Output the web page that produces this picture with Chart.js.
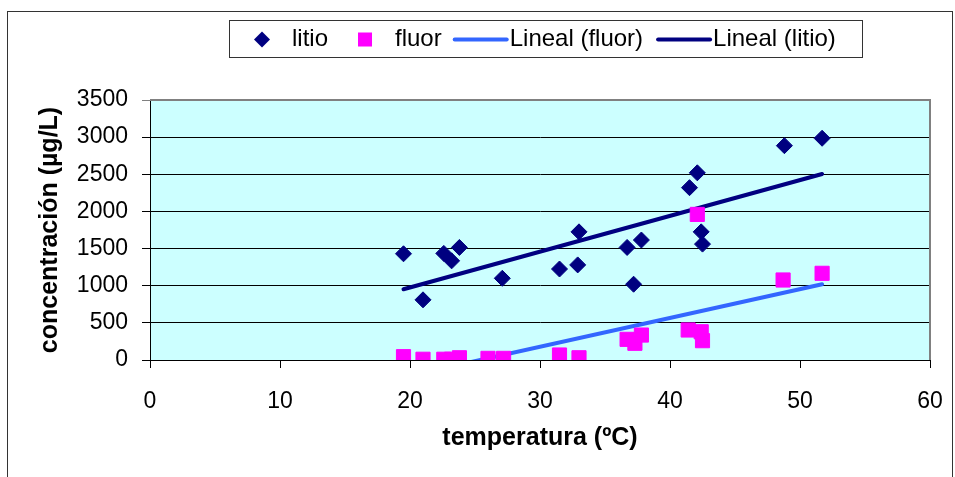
<!DOCTYPE html>
<html lang="es">
<head>
<meta charset="UTF-8">
<title>Concentración de litio y fluor según temperatura</title>
<script src="https://cdn.jsdelivr.net/npm/chart.js"></script>
<style>
  html, body { margin: 0; padding: 0; background: #ffffff; }
  canvas { display: block; }
</style>
</head>
<body>
<canvas id="grafico" width="955" height="477"></canvas>
<script>
// datos
const litioTemp = [19.5, 21.0, 22.6, 23.2, 23.8, 27.1, 31.5, 32.9, 33.0, 36.7, 37.2, 37.8, 41.5, 42.1, 42.4, 42.5, 48.8, 51.7];
const litioConc = [1430, 810, 1435, 1335, 1515, 1100, 1225, 1280, 1725, 1515, 1020, 1615, 2320, 2520, 1725, 1560, 2885, 2985];
const fluorTemp = [19.5, 21.0, 22.6, 23.2, 23.8, 26.0, 27.2, 31.5, 33.0, 36.7, 37.3, 37.8, 41.4, 42.1, 42.4, 42.5, 48.7, 51.7];
const fluorConc = [45, 10, 10, 10, 30, 22, 22, 67, 30, 278, 225, 336, 404, 1960, 380, 260, 1077, 1167];

// extremos de las lineas de tendencia (lineal)
const tendTemp = [19.5, 51.7];
const tendLitio = [952, 2504];
const tendFluor = [-229, 1020];

const xTicks = [0, 10, 20, 30, 40, 50, 60];
const yTicks = [0, 500, 1000, 1500, 2000, 2500, 3000, 3500];

const fuente = "'Liberation Sans', Arial, sans-serif";
const azulMarino = '#000080';
const magenta = '#FF00FF';
const azulClaro = '#3366FF';

const puntos = (xs, ys) => xs.map((x, i) => ({ x: x, y: ys[i] }));

// fondo del area de trazado y borde gris
const fondo = {
    id: 'fondo',
    beforeDraw(chart) {
        const { ctx, chartArea: a } = chart;
        ctx.save();
        ctx.fillStyle = '#ffffff';
        ctx.fillRect(0, 0, chart.width, chart.height);
        ctx.strokeStyle = '#333333';
        ctx.lineWidth = 1;
        ctx.strokeRect(7.5, 11.5, 945, 480);
        ctx.fillStyle = '#CCFFFF';
        ctx.fillRect(a.left, a.top, a.right - a.left, a.bottom - a.top);
        ctx.restore();
    },
    beforeDatasetsDraw(chart) {
        const { ctx, chartArea: a } = chart;
        ctx.save();
        ctx.strokeStyle = '#808080';
        ctx.lineWidth = 2;
        ctx.beginPath();
        ctx.moveTo(a.left, a.top);
        ctx.lineTo(a.right, a.top);
        ctx.lineTo(a.right, a.bottom);
        ctx.stroke();
        ctx.restore();
    }
};

// leyenda con recuadro como en el original
const leyenda = {
    id: 'leyenda',
    afterDraw(chart) {
        const ctx = chart.ctx;
        const izq = 229, arriba = 20, der = 862, abajo = 57;
        const yc = (arriba + abajo) / 2 + 1;
        ctx.save();
        ctx.fillStyle = '#ffffff';
        ctx.fillRect(izq, arriba, der - izq, abajo - arriba);
        ctx.strokeStyle = '#333333';
        ctx.lineWidth = 1;
        ctx.strokeRect(izq + 0.5, arriba + 0.5, der - izq, abajo - arriba);
        ctx.font = '24px ' + fuente;
        ctx.textBaseline = 'middle';
        ctx.fillStyle = '#000000';

        const ds = chart.data.datasets;
        let x = izq + 33;
        // litio
        ctx.fillStyle = ds[0].backgroundColor;
        ctx.beginPath();
        ctx.moveTo(x, yc - 8); ctx.lineTo(x + 8, yc); ctx.lineTo(x, yc + 8); ctx.lineTo(x - 8, yc);
        ctx.closePath();
        ctx.fill();
        x += 30;
        ctx.fillStyle = '#000000';
        ctx.fillText(ds[0].label, x, yc);
        x += ctx.measureText(ds[0].label).width + 37;
        // fluor
        ctx.fillStyle = ds[1].backgroundColor;
        ctx.fillRect(x - 7, yc - 7, 14, 14);
        x += 30;
        ctx.fillStyle = '#000000';
        ctx.fillText(ds[1].label, x, yc);
        x += ctx.measureText(ds[1].label).width + 13;
        // lineas de tendencia
        [ds[2], ds[3]].forEach(d => {
            ctx.strokeStyle = d.borderColor;
            ctx.lineWidth = 4;
            ctx.lineCap = 'round';
            ctx.beginPath();
            ctx.moveTo(x, yc);
            ctx.lineTo(x + 52, yc);
            ctx.stroke();
            x += 55;
            ctx.fillStyle = '#000000';
            ctx.fillText(d.label, x, yc);
            x += ctx.measureText(d.label).width + 15;
        });
        ctx.restore();
    }
};

new Chart(document.getElementById('grafico'), {
    type: 'scatter',
    data: {
        datasets: [
            {
                label: 'litio',
                data: puntos(litioTemp, litioConc),
                pointStyle: 'rectRot',
                pointRadius: 8,
                pointHoverRadius: 8,
                backgroundColor: azulMarino,
                borderColor: azulMarino,
                borderWidth: 1
            },
            {
                label: 'fluor',
                data: puntos(fluorTemp, fluorConc),
                pointStyle: 'rect',
                pointRadius: 10,
                pointHoverRadius: 10,
                backgroundColor: magenta,
                borderColor: magenta,
                borderWidth: 1
            },
            {
                label: 'Lineal (fluor)',
                data: puntos(tendTemp, tendFluor),
                showLine: true,
                pointRadius: 0,
                borderColor: azulClaro,
                backgroundColor: azulClaro,
                borderWidth: 4,
                borderCapStyle: 'round'
            },
            {
                label: 'Lineal (litio)',
                data: puntos(tendTemp, tendLitio),
                showLine: true,
                pointRadius: 0,
                borderColor: azulMarino,
                backgroundColor: azulMarino,
                borderWidth: 4,
                borderCapStyle: 'round'
            }
        ]
    },
    options: {
        responsive: false,
        animation: false,
        devicePixelRatio: 1,
        layout: { padding: { left: 8, top: 100, right: 25, bottom: 0 } },
        plugins: {
            legend: { display: false },
            tooltip: { enabled: false }
        },
        scales: {
            x: {
                type: 'linear',
                min: 0,
                max: 60,
                afterBuildTicks: s => { s.ticks = xTicks.map(v => ({ value: v })); },
                afterFit: s => { s.height = 117; s.paddingLeft = 0; s.paddingRight = 0; },
                grid: { drawOnChartArea: false, drawTicks: true, tickLength: 8, color: '#000000' },
                border: { display: true, color: '#000000', width: 1 },
                ticks: { color: '#000000', padding: 20, font: { family: fuente, size: 23 } },
                title: {
                    display: true,
                    text: 'temperatura (ºC)',
                    color: '#000000',
                    font: { family: fuente, size: 25, weight: 'bold' },
                    padding: { top: 0, bottom: 24 }
                }
            },
            y: {
                type: 'linear',
                min: 0,
                max: 3500,
                afterBuildTicks: s => { s.ticks = yTicks.map(v => ({ value: v })); },
                afterFit: s => { s.width = 142; s.paddingTop = 0; s.paddingBottom = 0; },
                grid: {
                    drawTicks: true,
                    tickLength: 8,
                    color: c => (c.tick && c.tick.value === 3500) ? '#808080' : '#000000',
                    lineWidth: 1
                },
                border: { display: true, color: '#000000', width: 1 },
                ticks: {
                    color: '#000000',
                    padding: 14,
                    font: { family: fuente, size: 23 },
                    callback: v => String(v)
                },
                title: {
                    display: true,
                    text: 'concentración (µg/L)',
                    color: '#000000',
                    font: { family: fuente, size: 25, weight: 'bold' },
                    padding: { top: 27, bottom: 0 }
                }
            }
        }
    },
    plugins: [fondo, leyenda]
});
</script>
</body>
</html>
